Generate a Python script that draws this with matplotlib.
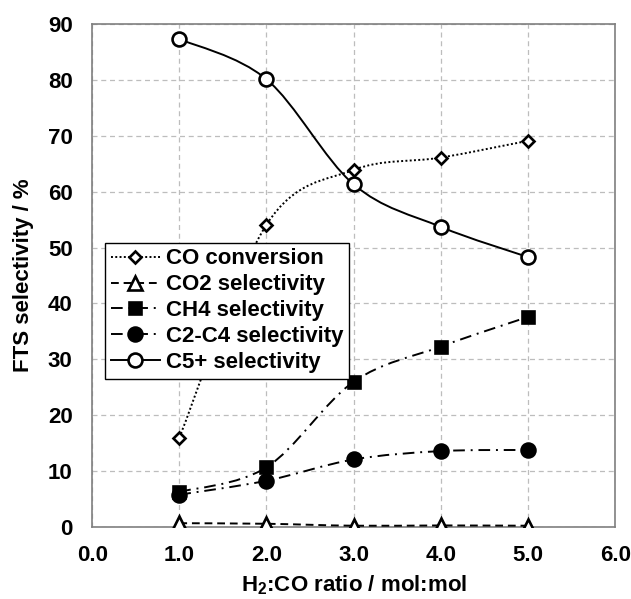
import matplotlib
matplotlib.use("Agg")
import matplotlib.pyplot as plt
import numpy as np
from matplotlib.path import Path
from matplotlib.patches import PathPatch
from matplotlib.lines import Line2D

plt.rcParams['font.family'] = ['Liberation Sans', 'DejaVu Sans']
plt.rcParams['font.weight'] = 'bold'
plt.rcParams['mathtext.fontset'] = 'custom'
plt.rcParams['mathtext.rm'] = 'Liberation Sans:bold'
plt.rcParams['mathtext.bf'] = 'Liberation Sans:bold'
plt.rcParams['mathtext.default'] = 'bf'

ratio = [1.0, 2.0, 3.0, 4.0, 5.0]
CO_conversion = [16.0, 54.1, 63.9, 66.1, 69.1]
CO2_selectivity = [0.7, 0.6, 0.25, 0.3, 0.25]
CH4_selectivity = [6.3, 10.7, 26.0, 32.3, 37.6]
C2C4_selectivity = [5.8, 8.3, 12.1, 13.6, 13.8]
C5_selectivity = [87.3, 80.1, 61.3, 53.7, 48.3]

x_ticks = [0.0, 1.0, 2.0, 3.0, 4.0, 5.0, 6.0]
y_ticks = [0, 10, 20, 30, 40, 50, 60, 70, 80, 90]


def smooth_path(x, y):
    # Excel-like smoothed line: cubic bezier through the points
    pts = np.column_stack([x, y]).astype(float)
    n = len(pts)
    verts = [pts[0]]
    codes = [Path.MOVETO]
    for i in range(n - 1):
        p0 = pts[i - 1] if i > 0 else pts[i]
        p1 = pts[i]
        p2 = pts[i + 1]
        p3 = pts[i + 2] if i + 2 < n else pts[i + 1]
        c1 = p1 + (p2 - p0) / 6.0
        c2 = p2 - (p3 - p1) / 6.0
        verts += [c1, c2, p2]
        codes += [Path.CURVE4] * 3
    return Path(verts, codes)


fig = plt.figure(figsize=(6.31, 5.99), dpi=100)
ax = fig.add_axes([0.146, 0.12, 0.829, 0.84])

series = [
    (CO_conversion, 'CO conversion', (0, (1, 1.2)), 'D', 'white', 6.5),
    (CO2_selectivity, 'CO2 selectivity', (0, (4, 2.5)), '^', 'white', 10),
    (CH4_selectivity, 'CH4 selectivity', (0, (6, 3, 1, 3)), 's', 'black', 9),
    (C2C4_selectivity, 'C2-C4 selectivity', (0, (6, 3, 1, 3)), 'o', 'black', 10),
    (C5_selectivity, 'C5+ selectivity', '-', 'o', 'white', 10),
]

handles = []
for vals, label, ls, mk, fc, ms in series:
    patch = PathPatch(smooth_path(ratio, vals), facecolor='none', edgecolor='black',
                      lw=1.4, linestyle=ls, zorder=3)
    ax.add_patch(patch)
    ax.plot(ratio, vals, linestyle='none', marker=mk, markersize=ms,
            markerfacecolor=fc, markeredgecolor='black', markeredgewidth=1.9, zorder=4)
    handles.append(Line2D([], [], color='black', lw=1.4, linestyle=ls, marker=mk,
                          markersize=ms, markerfacecolor=fc, markeredgecolor='black',
                          markeredgewidth=1.9))

ax.set_xlim(0, 6)
ax.set_ylim(0, 90)
ax.set_xticks(x_ticks)
ax.set_xticklabels(['%.1f' % v for v in x_ticks])
ax.set_yticks(y_ticks)
ax.tick_params(length=0, labelsize=16)
ax.tick_params(axis='y', pad=14)
ax.tick_params(axis='x', pad=13)
ax.grid(True, linestyle=(0, (4, 3)), color='#bdbdbd', lw=0.9)
ax.set_axisbelow(True)
for s in ax.spines.values():
    s.set_color('#7f7f7f')
    s.set_linewidth(1.2)

ax.set_xlabel('H$_2$:CO ratio / mol:mol', fontsize=16, fontweight='bold', labelpad=5)
ax.set_ylabel('FTS selectivity / %', fontsize=16, fontweight='bold', labelpad=10)

leg = ax.legend(handles=handles, labels=[s[1] for s in series], loc='upper left',
                bbox_to_anchor=(0.025, 0.565), borderaxespad=0, fontsize=16,
                handlelength=2.2, handletextpad=0.3, labelspacing=0.22,
                borderpad=0.25, fancybox=False, framealpha=1)
leg.get_frame().set_edgecolor('black')
leg.get_frame().set_linewidth(1.0)

fig.savefig('out.png', dpi=100)
